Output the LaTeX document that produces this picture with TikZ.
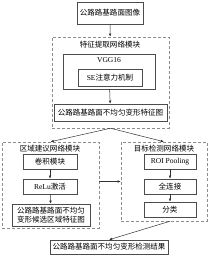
\documentclass[tikz,border=0pt]{standalone}
\usepackage{fontspec}
\setmainfont{Liberation Serif}
\newfontfamily\cjk{Noto Sans CJK SC}
\usepackage{tikz}
\usetikzlibrary{positioning, arrows.meta}

\begin{document}
\begin{tikzpicture}[x=0.035cm, y=-0.035cm,
    every node/.style={font=\fontsize{7.5}{9}\selectfont, inner sep=0pt},
    box/.style={draw=black!70, rectangle, line width=0.5pt},
    dbox/.style={draw=black!45, densely dashed, rectangle, line width=0.5pt},
    size/.style 2 args={minimum width=#1*0.035cm, minimum height=#2*0.035cm},
    arr/.style={-{Latex[length=3.2pt, width=2.6pt]}, line width=0.5pt, black!80}]
      \useasboundingbox (0,0) rectangle (220,255);

      % Input image
      \node[box, size={66}{22}] (input) at (110,13) {\cjk 公路路基路面图像};

      % Feature extraction module
      \node[dbox, size={117}{91}] (feat) at (110.5,82.5) {};
      \node (feattitle) at (110,45) {\cjk 特征提取网络模块};
      \node[box, size={92}{35}] (vgg) at (109,71.5) {};
      \node (vggtitle) at (109,60.5) {VGG16};
      \node[box, size={64}{17}] (se) at (110,78) {SE{\cjk 注意力机制}};
      \node[box, size={113}{17}] (fmap) at (110.5,112.5) {\cjk 公路路基路面不均匀变形特征图};

      % Region proposal module
      \node[dbox, size={97}{86}] (rpn) at (50.5,185) {};
      \node (rpntitle) at (50,148.5) {\cjk 区域建议网络模块};
      \node[box, size={54}{15}] (conv) at (50,161.5) {\cjk 卷积模块};
      \node[box, size={54}{15}] (relu) at (50,186.5) {ReLu{\cjk 激活}};
      \node[box, size={78}{22}, align=center] (region) at (51,215)
        {\cjk 公路路基路面不均匀\\\cjk 变形候选区域特征图};

      % Detection module
      \node[dbox, size={86}{79}] (det) at (164,181.5) {};
      \node (dettitle) at (164,148.5) {\cjk 目标检测网络模块};
      \node[box, size={52}{15}] (roi) at (170,161.5) {ROI Pooling};
      \node[box, size={52}{15}] (fc) at (170,186.5) {\cjk 全连接};
      \node[box, size={52}{15}] (cls) at (170,209.5) {\cjk 分类};

      % Result
      \node[box, size={118}{14}] (result) at (109,247) {\cjk 公路路基路面不均匀变形检测结果};

      % Arrows
      \draw[arr] (input) -- (feat);
      \draw[arr] (vgg) -- (fmap);
      \draw[arr] (feat.south) -- (rpn.north);
      \draw[arr] (feat.south) -- (det.north);
      \draw[arr] (conv) -- (relu);
      \draw[arr] (relu) -- (region);
      \draw[arr] (roi) -- (fc);
      \draw[arr] (fc) -- (cls);
      \draw[arr] (rpn.east |- det) -- (det.west);
      \draw[arr] (cls |- det.south) -- (result.north);
\end{tikzpicture}
\end{document}
